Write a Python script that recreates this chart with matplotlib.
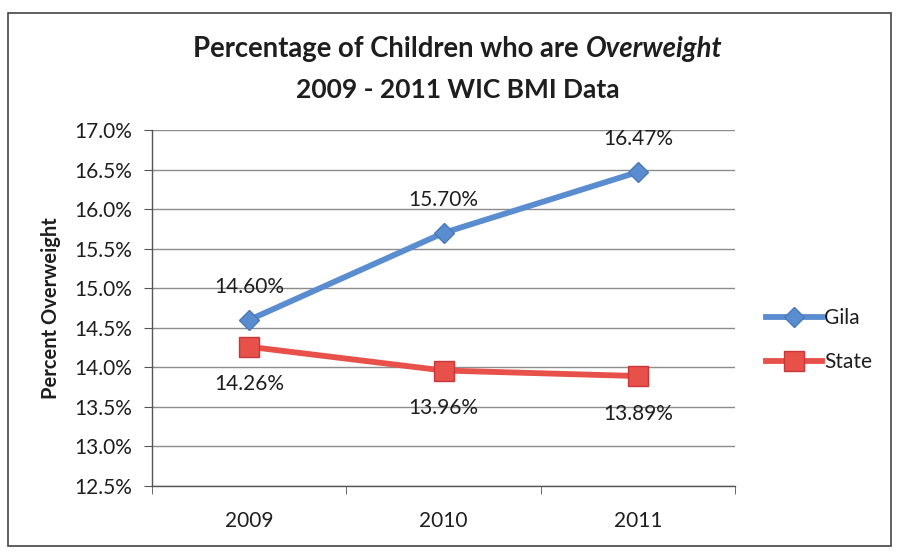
import matplotlib
matplotlib.use("Agg")
import matplotlib.pyplot as plt
from matplotlib.patches import Rectangle
from matplotlib.ticker import FuncFormatter, FixedLocator

# chart data
years = ["2009", "2010", "2011"]
gila = [14.60, 15.70, 16.47]
state = [14.26, 13.96, 13.89]
y_ticks = [12.5, 13.0, 13.5, 14.0, 14.5, 15.0, 15.5, 16.0, 16.5, 17.0]

plt.rcParams['font.family'] = ['Lato', 'DejaVu Sans']

BLUE = "#5A8DCF"
RED = "#E8504A"
GRID = "#8C8C8C"
TXT = "#1e1e1e"

fig = plt.figure(figsize=(8.99, 5.58), dpi=100)
ax = fig.add_axes([0.169, 0.129, 0.649, 0.638])

x = range(len(years))
ax.plot(x, gila, color=BLUE, lw=4.2, marker="D", ms=10.5, mec="#4A79B8",
        label="Gila", zorder=3)
ax.plot(x, state, color=RED, lw=4.2, marker="s", ms=14, mec="#C8373A",
        label="State", zorder=3)

# value labels: Gila above, State below
for i, v in enumerate(gila):
    ax.annotate(f"{v:.2f}%", (i, v), xytext=(0, 24), textcoords="offset points",
                ha="center", va="center", fontsize=15, color=TXT)
for i, v in enumerate(state):
    ax.annotate(f"{v:.2f}%", (i, v), xytext=(0, -27), textcoords="offset points",
                ha="center", va="center", fontsize=15, color=TXT)

ax.set_xlim(-0.5, 2.5)
ax.set_ylim(12.5, 17.0)
ax.set_yticks(y_ticks)
ax.yaxis.set_major_formatter(FuncFormatter(lambda v, p: f"{v:.1f}%"))
ax.set_xticks(list(x))
ax.set_xticklabels(years)
ax.xaxis.set_minor_locator(FixedLocator([-0.5, 0.5, 1.5, 2.5]))
ax.tick_params(axis="x", which="major", length=0, pad=18, labelsize=15,
               labelcolor=TXT)
ax.tick_params(axis="x", which="minor", length=6, color="#555555")
ax.tick_params(axis="y", length=6, color="#555555", labelsize=15, pad=8,
               labelcolor=TXT)

ax.grid(axis="y", color=GRID, lw=1.0)
ax.set_axisbelow(True)
for s in ["top", "right"]:
    ax.spines[s].set_visible(False)
for s in ["left", "bottom"]:
    ax.spines[s].set_color("#555555")
    ax.spines[s].set_linewidth(1.0)

ax.set_ylabel("Percent Overweight", fontsize=14.5, fontweight="bold",
              labelpad=10, color=TXT)

# two-part title so only "Overweight" is italic, centred as one line
cx = 0.509
t1 = fig.text(0, 0.912, "Percentage of Children who are ", fontsize=19.8,
              fontweight="bold", ha="left", va="center", color=TXT)
t2 = fig.text(0, 0.912, "Overweight", fontsize=19.8, fontweight="bold",
              style="italic", ha="left", va="center", color=TXT)
r = fig.canvas.get_renderer()
w1 = t1.get_window_extent(r).width / fig.bbox.width
w2 = t2.get_window_extent(r).width / fig.bbox.width
t1.set_x(cx - (w1 + w2) / 2)
t2.set_x(cx - (w1 + w2) / 2 + w1)
fig.text(cx, 0.838, "2009 - 2011 WIC BMI Data", fontsize=19,
         fontweight="bold", ha="center", va="center", color=TXT)

leg = ax.legend(loc="center left", bbox_to_anchor=(1.02, 0.41), frameon=False,
                fontsize=15, handlelength=2.7, handletextpad=0.1,
                labelspacing=1.15)
for t in leg.get_texts():
    t.set_color(TXT)

# outer chart border
fig.add_artist(Rectangle((0.009, 0.022), 0.982, 0.955, transform=fig.transFigure,
                         fill=False, ec="#444444", lw=1.2))

fig.savefig("out.png", dpi=100)
